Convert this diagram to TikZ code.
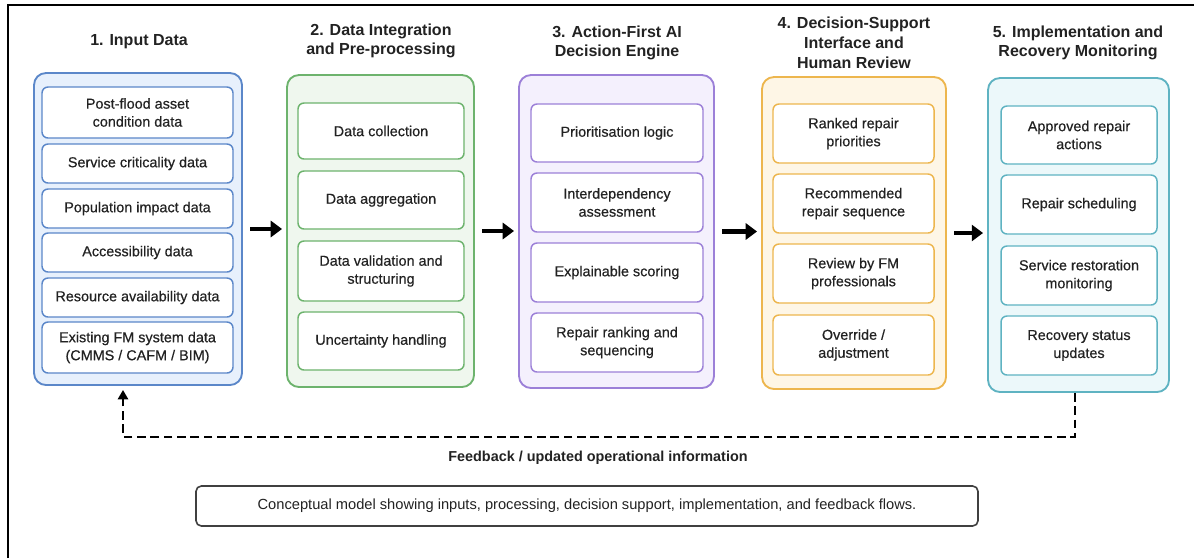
\documentclass[tikz,border=0pt]{standalone}
\usepackage{fontspec}
\setmainfont{Liberation Sans}
\newfontfamily\medfont[FakeBold=0.45]{Liberation Sans}
\usetikzlibrary{arrows.meta,calc}
\definecolor{bluebd}{HTML}{5B87C9}\definecolor{bluefill}{HTML}{E7F0FC}
\definecolor{greenbd}{HTML}{6DB36D}\definecolor{greenfill}{HTML}{EFF7EE}
\definecolor{purplebd}{HTML}{9C80D8}\definecolor{purplefill}{HTML}{F4F0FD}
\definecolor{orangebd}{HTML}{EDB64E}\definecolor{orangefill}{HTML}{FEF6E6}
\definecolor{tealbd}{HTML}{5FB3C2}\definecolor{tealfill}{HTML}{ECF8FA}
\definecolor{txt}{HTML}{222222}
\newcommand\mkbox[7]{%
  \pgfmathsetmacro\bw{(#5-#3)*0.75}\pgfmathsetmacro\bh{(#6-#4)*0.75}%
  \node[#2, minimum width=\bw pt, minimum height=\bh pt] (#1) at ({(#3+#5)/2},{(#4+#6)/2}) {#7};}
\tikzset{
  colbox/.style={draw=#1bd, fill=#1fill, rounded corners=9pt, line width=1.4pt, inner sep=0pt},
  item/.style={draw=#1bd, fill=white, rounded corners=4.5pt, line width=1.1pt, inner sep=0pt,
    align=center, text=txt, font=\medfont\fontsize{10.8}{13.5}\selectfont},
  coltitle/.style={align=center, text=txt, font=\bfseries\fontsize{12}{14.8}\selectfont},
  bigarrow/.style={line width=3.2pt, -{Triangle[length=8.5pt,width=12pt]}},
  fbline/.style={line width=2pt, dash pattern=on 6.5pt off 3.5pt, -{Triangle[length=7pt,width=7.5pt]}},
}
\begin{document}
\begin{tikzpicture}[x=0.75pt,y=-0.75pt]
\useasboundingbox (0,0) rectangle (1194,558);
\draw[line width=1.5pt] (8,558) -- (8,5) -- (1194,5);
% titles
\node[coltitle] (t1) at (139,42) {1. Input Data};
\node[coltitle] (t2) at (381,41) {2. Data Integration\\and Pre-processing};
\node[coltitle] (t3) at (617,43) {3. Action-First AI\\Decision Engine};
\node[coltitle] (t4) at (854,43) {4. Decision-Support\\Interface and\\Human Review};
\node[coltitle] (t5) at (1078,43) {5. Implementation and\\Recovery Monitoring};
% column boxes
\mkbox{c1}{colbox=blue}{34}{73}{242}{385}{}
\mkbox{c2}{colbox=green}{287}{75}{474}{387}{}
\mkbox{c3}{colbox=purple}{519}{75}{714}{388}{}
\mkbox{c4}{colbox=orange}{762}{77}{946}{389}{}
\mkbox{c5}{colbox=teal}{988}{78}{1169}{392}{}
% column 1
\mkbox{a1}{item=blue}{42}{87}{233}{138}{Post-flood asset\\condition data}
\mkbox{a2}{item=blue}{42}{144}{233}{183}{Service criticality data}
\mkbox{a3}{item=blue}{42}{189}{233}{228}{Population impact data}
\mkbox{a4}{item=blue}{42}{233}{233}{272}{Accessibility data}
\mkbox{a5}{item=blue}{42}{278}{233}{317}{Resource availability data}
\mkbox{a6}{item=blue}{42}{322}{233}{373}{Existing FM system data\\(CMMS / CAFM / BIM)}
% column 2
\mkbox{b1}{item=green}{298}{103}{464}{159}{Data collection}
\mkbox{b2}{item=green}{298}{171}{464}{229}{Data aggregation}
\mkbox{b3}{item=green}{298}{241}{464}{301}{Data validation and\\structuring}
\mkbox{b4}{item=green}{298}{312}{464}{370}{Uncertainty handling}
% column 3
\mkbox{d1}{item=purple}{531}{104}{703}{162}{Prioritisation logic}
\mkbox{d2}{item=purple}{531}{173}{703}{232}{Interdependency\\assessment}
\mkbox{d3}{item=purple}{531}{243}{703}{302}{Explainable scoring}
\mkbox{d4}{item=purple}{531}{313}{703}{372}{Repair ranking and\\sequencing}
% column 4
\mkbox{e1}{item=orange}{773}{104}{934}{163}{Ranked repair\\priorities}
\mkbox{e2}{item=orange}{773}{174}{934}{233}{Recommended\\repair sequence}
\mkbox{e3}{item=orange}{773}{244}{934}{303}{Review by FM\\professionals}
\mkbox{e4}{item=orange}{773}{315}{934}{375}{Override /\\adjustment}
% column 5
\mkbox{f1}{item=teal}{1001}{106}{1157}{164}{Approved repair\\actions}
\mkbox{f2}{item=teal}{1001}{175}{1157}{234}{Repair scheduling}
\mkbox{f3}{item=teal}{1001}{246}{1157}{305}{Service restoration\\monitoring}
\mkbox{f4}{item=teal}{1001}{316}{1157}{375}{Recovery status\\updates}
% arrows
\draw[bigarrow] ([xshift=5.5pt]c1.east) -- ([xshift=-3pt]c1.east -| c2.west);
\draw[bigarrow] ([xshift=5.5pt]c2.east) -- ([xshift=-3pt]c2.east -| c3.west);
\draw[bigarrow] ([xshift=5.5pt]c3.east) -- ([xshift=-3pt]c3.east -| c4.west);
\draw[bigarrow] ([xshift=5.5pt]c4.east) -- ([xshift=-3pt]c4.east -| c5.west);
% feedback
\coordinate (fbR) at (1075,437);
\coordinate (fbL) at (123,437);
\draw[fbline, shorten >=3pt] (c5.south -| fbR) -- (fbR) -- (fbL) -- (c1.south -| fbL);
\node[text=txt, font=\bfseries\fontsize{10.8}{13}\selectfont] (fbl) at (598,458) {Feedback / updated operational information};
% caption
\mkbox{cap}{draw=black!75, line width=1.2pt, rounded corners=4pt, text=txt, font=\fontsize{11}{13}\selectfont}{196}{486}{978}{526}{Conceptual model showing inputs, processing, decision support, implementation, and feedback flows.}
\end{tikzpicture}
\end{document}
